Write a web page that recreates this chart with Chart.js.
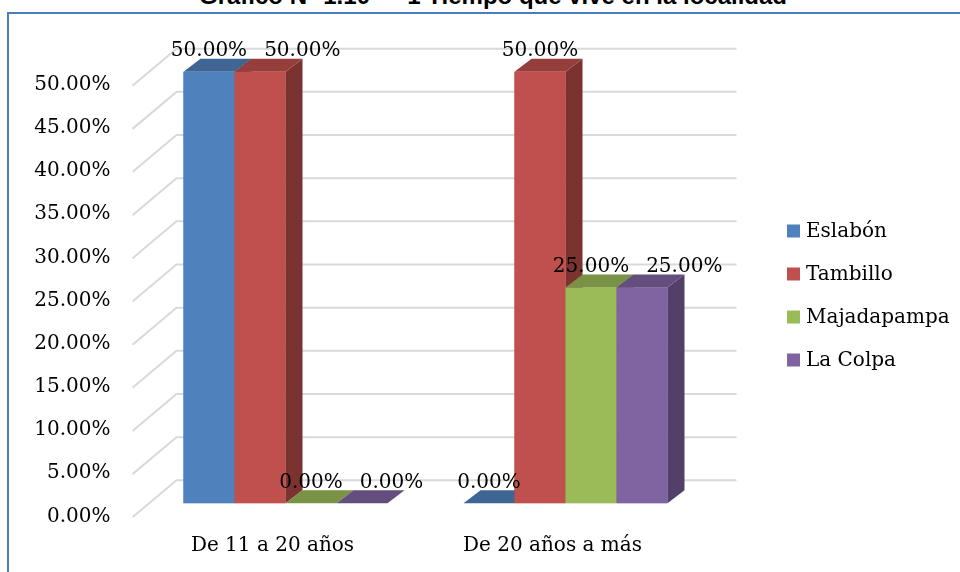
<!DOCTYPE html>
<html><head><meta charset="utf-8">
<script src="https://cdn.jsdelivr.net/npm/chart.js@4/dist/chart.umd.min.js"></script>
<style>
html,body{margin:0;padding:0;background:#fff;overflow:hidden;}
#wrap{position:relative;width:960px;height:572px;overflow:hidden;}
#title{position:absolute;left:0;width:986px;top:-17px;text-align:center;font:bold 24px "Liberation Sans",Arial,sans-serif;line-height:25px;color:#000;white-space:nowrap;}
#frame{position:absolute;left:7px;top:12px;width:980px;height:600px;border-left:2px solid #4a7ebb;border-top:2px solid #4a7ebb;}
canvas{position:absolute;left:0;top:0;}
</style></head><body>
<div id="wrap">
<div id="title">Gráfico N° 1.10 — 1 Tiempo que vive en la localidad</div>
<div id="frame"></div>
<canvas id="c" width="960" height="572"></canvas>
</div>
<script>
// ---- data ----
const categories = ['De 11 a 20 años', 'De 20 años a más'];
const seriesNames = ['Eslabón', 'Tambillo', 'Majadapampa', 'La Colpa'];
const eslabon = [50, 0];
const tambillo = [50, 50];
const majadapampa = [0, 25];
const laColpa = [0, 25];
const yMin = 0, yMax = 50, yStep = 5;

// ---- styles ----
const colors = ['#4f81bd', '#c0504d', '#9bbb59', '#8064a2'];
const FONT = {family: '"DejaVu Serif", serif', size: 20};
const DEPTH = {dx: 17, dy: -13};
const WALL = {front: {dx: -13, dy: 14}, back: {dx: 31, dy: -23}};
const LEGEND = {x: 787, y: 231, step: 43, box: 13, gap: 6};

function shade(hex, f) {
  const n = parseInt(hex.slice(1), 16);
  const r = Math.round(((n >> 16) & 255) * f), g = Math.round(((n >> 8) & 255) * f), b = Math.round((n & 255) * f);
  return `rgb(${r},${g},${b})`;
}

const threeD = {
  id: 'threeD',
  beforeDatasetsDraw(chart) {
    const ctx = chart.ctx, y = chart.scales.y, a = chart.chartArea;
    ctx.save();
    ctx.strokeStyle = '#d9d9d9';
    ctx.lineWidth = 2;
    y.ticks.forEach(t => {
      const py = y.getPixelForValue(t.value);
      ctx.beginPath();
      ctx.moveTo(a.left + WALL.front.dx, py + WALL.front.dy);
      ctx.lineTo(a.left + WALL.back.dx, py + WALL.back.dy);
      ctx.lineTo(a.right + WALL.back.dx, py + WALL.back.dy);
      ctx.stroke();
    });
    ctx.restore();
  },
  afterDatasetsDraw(chart) {
    const ctx = chart.ctx;
    const n = chart.data.labels.length;
    ctx.save();
    for (let i = 0; i < n; i++) {
      chart.data.datasets.forEach((ds, d) => {
        const el = chart.getDatasetMeta(d).data[i];
        const l = el.x - el.width / 2, r = el.x + el.width / 2;
        const t = Math.min(el.y, el.base), b = Math.max(el.y, el.base);
        const c = ds.backgroundColor;
        ctx.fillStyle = shade(c, 0.64);
        ctx.beginPath();
        ctx.moveTo(r, t); ctx.lineTo(r + DEPTH.dx, t + DEPTH.dy);
        ctx.lineTo(r + DEPTH.dx, b + DEPTH.dy); ctx.lineTo(r, b);
        ctx.closePath(); ctx.fill();
        ctx.fillStyle = shade(c, 0.78);
        ctx.beginPath();
        ctx.moveTo(l, t); ctx.lineTo(l + DEPTH.dx, t + DEPTH.dy);
        ctx.lineTo(r + DEPTH.dx, t + DEPTH.dy); ctx.lineTo(r, t);
        ctx.closePath(); ctx.fill();
        ctx.fillStyle = c;
        ctx.fillRect(l, t, r - l, b - t);
      });
    }
    // data labels
    ctx.font = `${FONT.size}px ${FONT.family}`;
    ctx.fillStyle = '#000';
    ctx.textAlign = 'center';
    ctx.textBaseline = 'alphabetic';
    for (let i = 0; i < n; i++) {
      const placed = [];
      chart.data.datasets.forEach((ds, d) => {
        const el = chart.getDatasetMeta(d).data[i];
        const txt = ds.data[i].toFixed(2) + '%';
        const w = ctx.measureText(txt).width;
        const by = Math.min(el.y, el.base) - 15.5;
        let cx = el.x;
        placed.forEach(p => {
          if (Math.abs(p.y - by) < 20 && cx - w / 2 < p.right + 17) cx = p.right + 17 + w / 2;
        });
        ctx.fillText(txt, cx, by);
        placed.push({y: by, right: cx + w / 2});
      });
    }
    // legend
    ctx.textAlign = 'left';
    ctx.textBaseline = 'middle';
    chart.data.datasets.forEach((ds, d) => {
      const yy = LEGEND.y + d * LEGEND.step;
      ctx.fillStyle = ds.backgroundColor;
      ctx.fillRect(LEGEND.x, yy - LEGEND.box / 2, LEGEND.box, LEGEND.box);
      ctx.fillStyle = '#000';
      ctx.fillText(ds.label, LEGEND.x + LEGEND.box + LEGEND.gap, yy + 1);
    });
    ctx.restore();
  }
};

const seriesData = [eslabon, tambillo, majadapampa, laColpa];
new Chart(document.getElementById('c'), {
  type: 'bar',
  data: {
    labels: categories,
    datasets: seriesNames.map((name, k) => ({
      label: name,
      data: seriesData[k],
      backgroundColor: colors[k],
      borderWidth: 0
    }))
  },
  options: {
    responsive: false,
    animation: false,
    layout: {padding: {left: 32, top: 71.7, right: 254.5, bottom: 0}},
    datasets: {bar: {categoryPercentage: 0.7286, barPercentage: 1}},
    plugins: {legend: {display: false}, tooltip: {enabled: false}},
    scales: {
      x: {
        grid: {display: false, drawTicks: false},
        border: {display: false},
        ticks: {font: FONT, color: '#000', padding: 30, labelOffset: -13, maxRotation: 0},
        afterFit(s) { s.height = 68.7; }
      },
      y: {
        min: yMin, max: yMax,
        grid: {display: false, drawTicks: false},
        border: {display: false},
        ticks: {stepSize: yStep, font: FONT, color: '#000', padding: 35, labelOffset: 13,
          callback: v => v.toFixed(2) + '%'},
        afterFit(s) { s.width = 113.5; }
      }
    }
  },
  plugins: [threeD]
});
</script>
</body></html>
